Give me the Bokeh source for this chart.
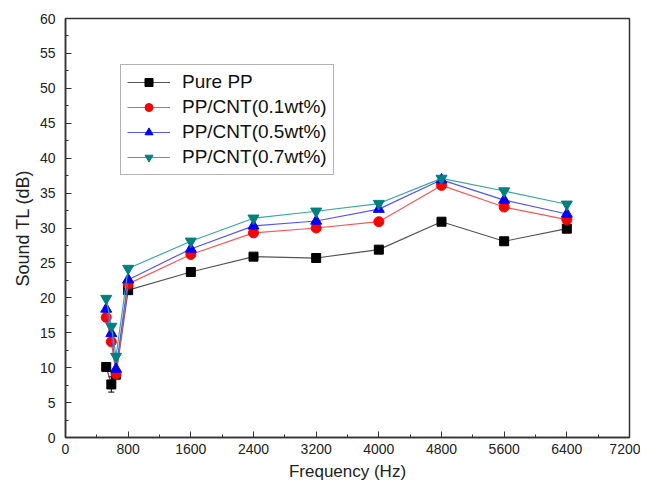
from bokeh.plotting import figure
from bokeh.models import Range1d, FixedTicker, Legend, LegendItem, Whisker, ColumnDataSource
from bokeh.embed import file_html
from bokeh.resources import INLINE

freq = [520, 585, 645, 800, 1600, 2400, 3200, 4000, 4800, 5600, 6400]
pure_pp = [10.1, 7.6, 9.0, 21.1, 23.7, 25.9, 25.7, 26.9, 30.9, 28.1, 29.9]
pure_pp_err = [0.6, 1.1, 0.4, 0.3, 0.3, 0.3, 0.3, 0.3, 0.3, 0.3, 0.3]
cnt_01 = [17.2, 13.7, 9.1, 22.0, 26.2, 29.3, 30.0, 30.9, 36.1, 33.0, 31.2]
cnt_05 = [18.4, 14.9, 9.8, 22.6, 27.0, 30.3, 31.0, 32.7, 36.9, 34.0, 32.0]
cnt_07 = [19.9, 15.9, 11.6, 24.2, 28.1, 31.4, 32.4, 33.5, 37.1, 35.3, 33.4]

x_ticks = [0, 800, 1600, 2400, 3200, 4000, 4800, 5600, 6400, 7200]
y_ticks = [0, 5, 10, 15, 20, 25, 30, 35, 40, 45, 50, 55, 60]

p = figure(width=640, height=486, output_backend="svg", toolbar_location=None,
           x_range=Range1d(0, 7200), y_range=Range1d(0, 60),
           min_border_left=65, min_border_right=11, min_border_top=18, min_border_bottom=49)
p.xgrid.visible = False
p.ygrid.visible = False
p.outline_line_color = "#333333"
p.outline_line_width = 1.5

FONT = "Liberation Sans"
for ax in (p.xaxis[0], p.yaxis[0]):
    ax.axis_line_color = "#333333"
    ax.axis_line_width = 1.5
    ax.major_tick_in = 6
    ax.major_tick_out = 0
    ax.minor_tick_in = 3
    ax.minor_tick_out = 0
    ax.major_tick_line_color = "#333333"
    ax.minor_tick_line_color = "#333333"
    ax.major_label_text_font = FONT
    ax.major_label_text_font_size = "14px"
    ax.major_label_text_color = "#222222"
    ax.axis_label_text_font = FONT
    ax.axis_label_text_font_style = "normal"
    ax.axis_label_text_color = "#222222"

p.xaxis.axis_label_text_font_size = "17px"
p.yaxis.axis_label_text_font_size = "18px"
p.xaxis.ticker = FixedTicker(ticks=x_ticks, minor_ticks=list(range(0, 7201, 400)))
p.yaxis.ticker = FixedTicker(ticks=y_ticks, minor_ticks=[i * 2.5 for i in range(25)])
p.xaxis.axis_label = "Frequency (Hz)"
p.yaxis.axis_label = "Sound TL (dB)"
p.xaxis.major_label_standoff = 6
p.yaxis.major_label_standoff = 10
p.xaxis.axis_label_standoff = 5
p.yaxis.axis_label_standoff = 4

src = ColumnDataSource(data=dict(x=freq, y=pure_pp,
                                 lo=[a - b for a, b in zip(pure_pp, pure_pp_err)],
                                 hi=[a + b for a, b in zip(pure_pp, pure_pp_err)]))
w = Whisker(source=src, base="x", upper="hi", lower="lo", line_color="black", line_width=1)
w.upper_head.size = 6
w.lower_head.size = 6
w.upper_head.line_color = "black"
w.lower_head.line_color = "black"
p.add_layout(w)

series = [
    ("Pure PP", pure_pp, "black", "#555555", "square", 9),
    ("PP/CNT(0.1wt%)", cnt_01, "#ff0000", "#ff5555", "circle", 10),
    ("PP/CNT(0.5wt%)", cnt_05, "#0000ff", "#5555ff", "triangle", 11),
    ("PP/CNT(0.7wt%)", cnt_07, "#008080", "#3aa8a0", "inverted_triangle", 11),
]
items = []
for label, ys, col, lcol, mk, sz in series:
    r1 = p.line(freq, ys, line_color=lcol, line_width=1.2)
    r2 = p.scatter(freq, ys, marker=mk, size=sz, fill_color=col, line_color=col)
    items.append(LegendItem(label=label, renderers=[r1, r2]))

legend = Legend(items=items, location=(55, 262), label_text_font=FONT,
                label_text_font_size="19px", label_text_color="#111111",
                glyph_width=43, glyph_height=20, label_height=20, spacing=3,
                label_standoff=12, padding=6, margin=0,
                border_line_color="#666666", border_line_width=1.2)
p.add_layout(legend, "center")

open("out.html", "w").write(file_html(p, INLINE))
